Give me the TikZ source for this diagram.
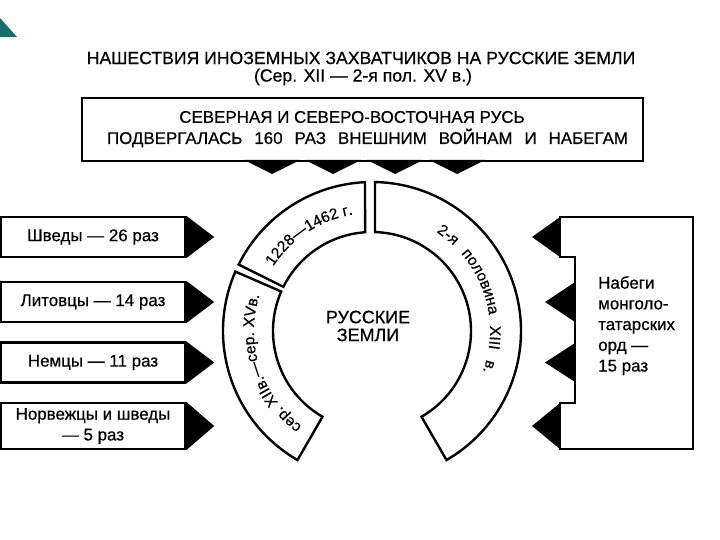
\documentclass[tikz,border=0pt]{standalone}
\usepackage{fontspec}
\setmainfont{Liberation Sans}[FakeBold=0.6]
\usetikzlibrary{decorations.text}

\definecolor{cornerteal}{RGB}{20,110,112}
\newcommand{\arcfont}{\fontsize{15.5}{16}\selectfont}
\newcommand{\boxfont}{\fontsize{17}{20.8}\selectfont}
\newcommand{\headfont}{\fontsize{17.7}{20}\selectfont}

\begin{document}
\begin{tikzpicture}[x=1bp, y=-1bp,
	frame/.style={draw, line width=2.4bp, inner sep=0pt},
	sidebox/.style={frame, minimum width=184bp, minimum height=40bp, align=center, font=\boxfont},
	ringpart/.style={draw, line width=2.4bp, fill=white}]
		\useasboundingbox (0,0) rectangle (720,540);
		\fill[white] (0,0) rectangle (720,540);

		% corner mark
		\fill[cornerteal] (0,18) -- (17,37) -- (0,37) -- cycle;

		% heading
		\node[font=\headfont] (title) at (361,58) {НАШЕСТВИЯ ИНОЗЕМНЫХ ЗАХВАТЧИКОВ НА РУССКИЕ ЗЕМЛИ};
		\node[font=\headfont] (period) at (363,77) {(Сер. XII — 2-я пол. XV в.)};

		% top box with its four wedges
		\node[frame, minimum width=561bp, minimum height=63bp] (rus) at (362.5,129.5) {};
		\node[font=\boxfont] (rus1) at (352,117) {СЕВЕРНАЯ И СЕВЕРО-ВОСТОЧНАЯ РУСЬ};
		\node[font=\boxfont] (rus2) at (367.5,138) {\makebox[521bp][s]{ПОДВЕРГАЛАСЬ 160 РАЗ ВНЕШНИМ ВОЙНАМ И НАБЕГАМ}};
		\foreach \x in {272,333,395,457}
			\fill (\x-28,160) -- (\x,174) -- (\x+28,160) -- cycle;

		% left boxes
		\node[sidebox] (shvedy) at (93,237) {Шведы — 26 раз};
		\node[sidebox] (litva) at (93,302) {Литовцы — 14 раз};
		\node[sidebox] (nemcy) at (93,362.5) {Немцы — 11 раз};
		\node[sidebox, minimum height=46bp] (norv) at (93,426) {Норвежцы и шведы\\— 5 раз};
		\foreach \b in {shvedy,litva,nemcy,norv}
			\fill (\b.north east) -- ([xshift=28bp]\b.east) -- (\b.south east) -- cycle;

		% right box (stepped left side) and its wedges
		\draw[line width=2.4bp] (560,217) -- (693,217) -- (693,449) -- (560,449) -- (560,403)
			-- (575,403) -- (575,257) -- (560,257) -- cycle;
		\fill (560,217) -- (532,237) -- (560,257) -- cycle;
		\fill (575,282) -- (545,302) -- (575,322) -- cycle;
		\fill (575,343) -- (545,362.5) -- (575,382) -- cycle;
		\fill (560,403) -- (532,426) -- (560,449) -- cycle;
		\node[anchor=north west, inner sep=0pt, align=left, font=\boxfont] (orda) at (598,276)
			{Набеги\\монголо-\\татарских\\орд —\\15 раз};

		% the ring of periods
		\begin{scope}[shift={(372,331)}, y=1bp]
			\draw[ringpart] (92.7:149) arc[start angle=92.7, end angle=153.5, radius=149]
				-- (153.5:99) arc[start angle=153.5, end angle=94, radius=99] -- cycle;
			\draw[ringpart] (156.5:149) arc[start angle=156.5, end angle=240, radius=149]
				-- (240:99) arc[start angle=240, end angle=156.5, radius=99] -- cycle;
			\draw[ringpart] (88.85:149) arc[start angle=88.85, end angle=-60, radius=149]
				-- (-60:99) arc[start angle=-60, end angle=88.26, radius=99] -- cycle;

			\path[decorate, decoration={text along path, text align=center,
				text={|\arcfont|1228—1462 г.}}] (152:118) arc[start angle=152, end angle=94, radius=118];
			\path[decorate, decoration={text along path, text align=center,
				text={|\arcfont|сер. XIIв.—сер. XVв.}}] (236:118) arc[start angle=236, end angle=160, radius=118];
			\path[decorate, decoration={text along path, text align={fit to path stretching spaces},
				text={|\arcfont|2-я половина XIII в.}}] (57:118) arc[start angle=57, end angle=-20, radius=118];
		\end{scope}
		\node[align=center, font=\fontsize{18}{18}\selectfont] (zemli) at (368,326) {РУССКИЕ\\ЗЕМЛИ};
	\end{tikzpicture}
\end{document}
